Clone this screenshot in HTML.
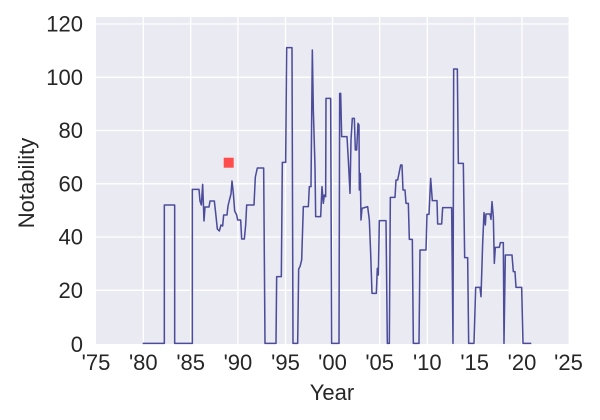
<!DOCTYPE html>
<html><head><meta charset="utf-8"><style>
html,body{margin:0;padding:0;background:#fff;}
svg{display:block;}
text{font-family:"Liberation Sans",Arial,sans-serif;fill:#262626;}
</style></head><body>
<svg width="600" height="420" viewBox="0 0 600 420" xmlns="http://www.w3.org/2000/svg">
<rect x="96" y="17" width="472.5" height="327" fill="#eaeaf2"/>
<g stroke="#fff" stroke-width="1.3">
<line x1="143.3" y1="17" x2="143.3" y2="344"/>
<line x1="190.7" y1="17" x2="190.7" y2="344"/>
<line x1="237.9" y1="17" x2="237.9" y2="344"/>
<line x1="285.5" y1="17" x2="285.5" y2="344"/>
<line x1="332.5" y1="17" x2="332.5" y2="344"/>
<line x1="379.7" y1="17" x2="379.7" y2="344"/>
<line x1="427.3" y1="17" x2="427.3" y2="344"/>
<line x1="474.7" y1="17" x2="474.7" y2="344"/>
<line x1="522" y1="17" x2="522" y2="344"/>
<line x1="96" y1="24" x2="568.5" y2="24"/>
<line x1="96" y1="77.3" x2="568.5" y2="77.3"/>
<line x1="96" y1="130.5" x2="568.5" y2="130.5"/>
<line x1="96" y1="183.8" x2="568.5" y2="183.8"/>
<line x1="96" y1="237" x2="568.5" y2="237"/>
<line x1="96" y1="290.3" x2="568.5" y2="290.3"/>
</g>
<g transform="scale(0.33333)">
<path fill="none" stroke="#4c4c9a" stroke-width="4.6" stroke-linejoin="round" d="M428,1030 H493 V615 H524 V1030 H577 V568 H597 L600,603 L604,615 L608,553 L612,663 L615,621 H627 L630,603 H643 L647,639 L652,687 L658,693 L663,675 L668,678 L671,645 H681 L684,618 L689,597 L693,582 L696,543 L700,579 L704,633 L710,645 L713,660 H722 L725,717 H733 L737,675 L740,615 H762 L766,531 L772,504 H791 L795,1030 H828 L830,830 H844 L847,487 H857 L860,143 H876 L879,1030 H893 L896,807 L900,800 L905,780 L910,620 H925 L928,560 H933 L937,150 L940,330 L945,500 L947,650 H962 L966,560 L970,610 L973,585 L977,590 L978,295 H992 L995,1030 H1017 L1019,280 H1022 L1025,410 H1041 L1045,480 L1050,580 L1053,420 L1057,355 H1063 L1066,450 H1070 L1074,370 L1077,375 L1078,570 L1081,520 L1083,660 L1086,625 L1103,620 L1108,660 L1112,760 L1116,880 H1129 L1132,805 L1135,825 L1138,662 H1158 L1162,1030 H1168 L1171,592 H1185 L1188,540 H1193 L1197,520 L1202,495 H1206 L1209,570 H1215 L1218,610 H1225 L1228,718 H1237 L1240,1030 H1257 L1260,750 H1278 L1281,643 H1287 L1292,535 L1297,602 H1311 L1313,672 H1325 L1328,623 H1355 L1359,1030 L1361,207 H1372 L1375,490 H1390 L1394,773 H1403 L1406,1030 H1422 L1427,862 H1440 L1443,890 L1448,730 L1452,638 L1456,675 L1458,642 H1470 L1473,658 L1476,605 L1480,650 L1483,790 L1486,742 H1498 L1501,728 H1510 L1512,1030 L1516,765 H1536 L1540,815 H1545 L1548,862 H1565 L1569,1030 H1594"/>
</g>
<rect x="223.7" y="157.7" width="10" height="10" fill="#ff4c4c"/>
<g font-size="22" text-anchor="end">
<text x="83" y="31.5">120</text>
<text x="83" y="85">100</text>
<text x="83" y="138.2">80</text>
<text x="83" y="191.5">60</text>
<text x="83" y="244.7">40</text>
<text x="83" y="298">20</text>
<text x="83" y="352">0</text>
</g>
<g font-size="22" text-anchor="middle">
<text x="96" y="370">'75</text>
<text x="143.3" y="370">'80</text>
<text x="190.7" y="370">'85</text>
<text x="237.9" y="370">'90</text>
<text x="285.5" y="370">'95</text>
<text x="332.5" y="370">'00</text>
<text x="379.7" y="370">'05</text>
<text x="427.3" y="370">'10</text>
<text x="474.7" y="370">'15</text>
<text x="522" y="370">'20</text>
<text x="568.5" y="370">'25</text>
</g>
<text x="332" y="400" font-size="22" text-anchor="middle">Year</text>
<text transform="translate(34,183) rotate(-90)" font-size="22" text-anchor="middle">Notability</text>
</svg>
</body></html>
